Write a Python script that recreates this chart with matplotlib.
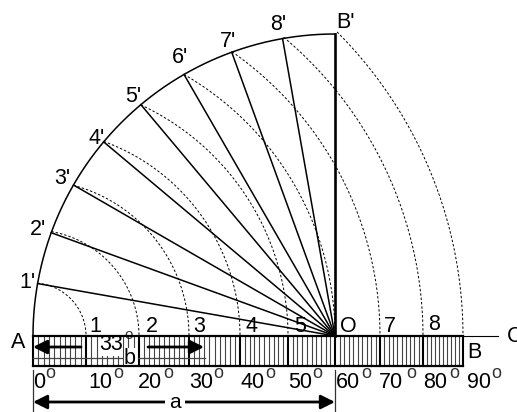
#!/usr/bin/env python3
# -*- coding: utf-8 -*-
"""
chord scale construction, drawn in picture pixels
"""
import matplotlib
matplotlib.use('Agg')
import matplotlib.pyplot as plt
import numpy as np

plt.rcParams['font.family'] = ['Liberation Sans', 'DejaVu Sans']

# angles of the rim marks, degrees
rim_angles = [10, 20, 30, 40, 50, 60, 70, 80, 90]
rim_labels = ["1'", "2'", "3'", "4'", "5'", "6'", "7'", "8'", "B'"]
# chord length for each 10 degrees
chords = [0, 53, 106, 156, 207, 255, 302, 347, 390, 430]
bar_labels = ['1', '2', '3', '4', '5', 'O', '7', '8']
deg_labels = ['0', '10', '20', '30', '40', '50', '60', '70', '80', '90']

radius = 302
ox, oy = 335, 336
ax_, ay_ = 33, 336
bar_bottom = 366

fig = plt.figure(figsize=(5.17, 4.12), dpi=100)
ax = fig.add_axes([0, 0, 1, 1])
ax.set_xlim(0, 517)
ax.set_ylim(412, 0)
ax.axis('off')


def rim_point(deg):
    t = np.radians(deg)
    return ox - radius * np.cos(t), oy - radius * np.sin(t)


# outer rim
t = np.radians(np.arange(0, 90.5, 0.5))
ax.plot(ox - radius * np.cos(t), oy - radius * np.sin(t), color='k', lw=1.1)

# radial lines and dashed chord arcs
for deg, chord in zip(rim_angles, chords[1:]):
    px, py = rim_point(deg)
    ax.plot([ox, px], [oy, py], color='k', lw=1.9 if deg == 90 else 1.1)
    start = np.arctan2(oy - py, px - ax_)
    s = np.linspace(start, 0, 80)
    ax.plot(ax_ + chord * np.cos(s), ay_ - chord * np.sin(s), color='k', lw=0.7,
            dashes=(2.5, 2))

# bar, minor divisions first
for a, b in zip(chords[:-1], chords[1:]):
    for x in np.linspace(a, b, 11)[1:-1]:
        ax.plot([ax_ + x] * 2, [ay_, bar_bottom], color='#444444', lw=0.8)
for c in chords:
    ax.plot([ax_ + c] * 2, [ay_, bar_bottom], color='k', lw=1.5)
ax.plot([ax_, ax_ + chords[-1]], [ay_, ay_], color='k', lw=1.6, zorder=5)
ax.plot([ax_, ax_ + chords[-1]], [bar_bottom, bar_bottom], color='k', lw=1.6, zorder=5)
ax.plot([ax_ + chords[-1], 498], [ay_, ay_], color='k', lw=0.8)

# inner rule of the bar
ax.plot([33, 122], [358, 358], color='#444444', lw=0.9)
ax.plot([138, 205], [358, 358], color='#444444', lw=0.9)

# dimension lines
ax.plot([33, 33], [370, 412], color='#333333', lw=0.9)
ax.plot([335, 335], [370, 412], color='#333333', lw=0.9)


def arrow(x0, x1, y, style='-|>', lw=2.0):
    ax.annotate('', xy=(x1, y), xytext=(x0, y),
                arrowprops=dict(arrowstyle=style, color='k', lw=lw, shrinkA=0, shrinkB=0,
                                mutation_scale=21))


arrow(81, 33, 347)
arrow(148, 204, 347)
arrow(33, 335, 402, style='<|-|>')
# gap in the long arrow for its letter
ax.plot([165, 185], [402, 402], color='white', lw=4, zorder=4, solid_capstyle='butt')


def label(x, y, s, size=15.5, **kw):
    ax.text(x, y, s, fontsize=size, ha='center', va='center', **kw)


white = dict(facecolor='white', edgecolor='none', pad=0)
ax.text(175, 407.5, 'a', fontsize=15, ha='center', va='baseline', zorder=6)
label(111, 345, '33', bbox=white)
label(130, 358, 'b', bbox=white)
label(129, 335, 'o', size=11, alpha=0.8)

rim_xy = [(27, 282), (38, 229), (62, 178), (97, 138), (133, 96), (180, 57), (228, 41), (278, 24), (345, 22)]
for (x, y), s in zip(rim_xy, rim_labels):
    label(x, y, s)

bar_xy = [(95, 326), (152, 327), (199, 326), (252, 327), (300, 327), (348, 327), (390, 327), (434, 325)]
for (x, y), s in zip(bar_xy, bar_labels):
    label(x, y, s)

label(18, 342, 'A')
label(474, 352, 'B')
label(515, 336, 'C')

deg_x = [39, 100, 150, 201, 253, 300, 348, 391, 435, 479]
circle_x = [50, 118, 168, 218, 270, 317, 366, 411, 454, 496]
for x, cx, s in zip(deg_x, circle_x, deg_labels):
    label(x, 382, s)
    label(cx, 373, 'o', size=13, alpha=0.8)

fig.savefig('out.png', dpi=100)
